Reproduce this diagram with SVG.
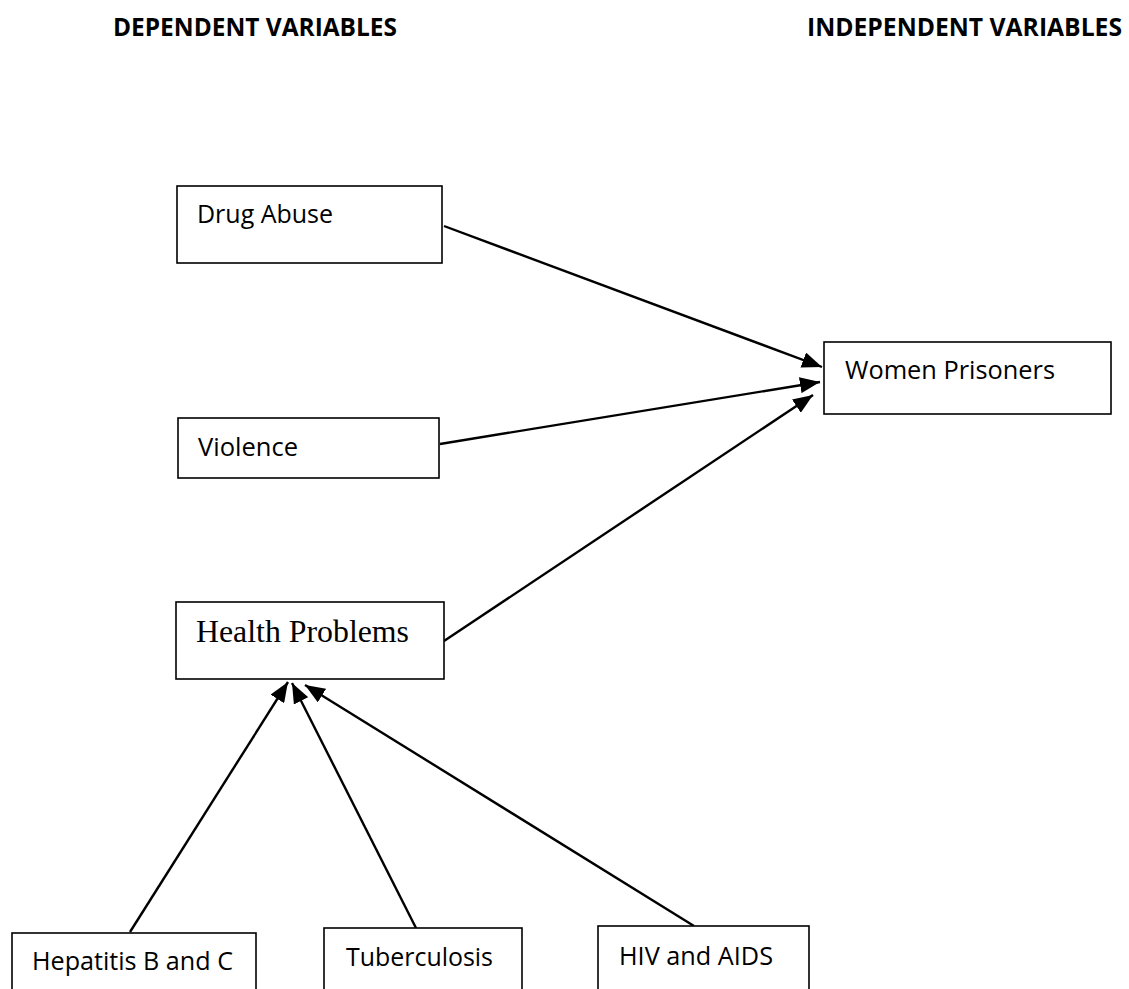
<svg xmlns="http://www.w3.org/2000/svg" width="1129" height="989" viewBox="0 0 1129 989">
<style>
.box{fill:#fff;stroke:#000;stroke-width:1.6}
.lbl{font-family:"Open Sans","Liberation Sans",sans-serif;font-size:25px;fill:#000}
.serif{font-family:"Liberation Serif","Times New Roman",serif;font-size:32px;fill:#000}
.hdr{font-family:"Open Sans","Liberation Sans",sans-serif;font-size:25px;font-weight:bold;fill:#000}
.conn{stroke:#000;stroke-width:2.4;fill:none;marker-end:url(#arr)}
</style>
<defs>
<marker id="arr" markerUnits="userSpaceOnUse" markerWidth="21" markerHeight="16" refX="20" refY="8" orient="auto" viewBox="0 0 21 16">
<path d="M0,0 L20,8 L0,16 z" fill="#000"/>
</marker>
</defs>
<rect width="1129" height="989" fill="#fff"/>
<g id="headers">
<text class="hdr" x="113" y="36" textLength="284" lengthAdjust="spacingAndGlyphs">DEPENDENT VARIABLES</text>
<text class="hdr" x="807" y="36" textLength="315" lengthAdjust="spacingAndGlyphs">INDEPENDENT VARIABLES</text>
</g>
<g id="connectors">
<line class="conn" x1="444" y1="226" x2="822" y2="367"/>
<line class="conn" x1="440" y1="444" x2="820" y2="382"/>
<line class="conn" x1="444" y1="641" x2="813" y2="395"/>
<line class="conn" x1="130" y1="932" x2="288" y2="682"/>
<line class="conn" x1="416" y1="928" x2="292" y2="683"/>
<line class="conn" x1="694" y1="926" x2="305" y2="685"/>
</g>
<g id="drug-abuse">
<rect class="box" x="177" y="186" width="265" height="77"/>
<text class="lbl" x="197" y="223" textLength="136" lengthAdjust="spacingAndGlyphs">Drug Abuse</text>
</g>
<g id="women-prisoners">
<rect class="box" x="824" y="342" width="287" height="72"/>
<text class="lbl" x="845" y="379" textLength="210" lengthAdjust="spacingAndGlyphs">Women Prisoners</text>
</g>
<g id="violence">
<rect class="box" x="178" y="418" width="261" height="60"/>
<text class="lbl" x="198" y="456" textLength="100" lengthAdjust="spacingAndGlyphs">Violence</text>
</g>
<g id="health-problems">
<rect class="box" x="176" y="602" width="268" height="77"/>
<text class="serif" x="196" y="642" textLength="213" lengthAdjust="spacingAndGlyphs">Health Problems</text>
</g>
<g id="hepatitis">
<rect class="box" x="12" y="933" width="244" height="70"/>
<text class="lbl" x="32" y="970" textLength="201" lengthAdjust="spacingAndGlyphs">Hepatitis B and C</text>
</g>
<g id="tuberculosis">
<rect class="box" x="324" y="928" width="198" height="75"/>
<text class="lbl" x="346" y="966" textLength="147" lengthAdjust="spacingAndGlyphs">Tuberculosis</text>
</g>
<g id="hiv-aids">
<rect class="box" x="598" y="926" width="211" height="77"/>
<text class="lbl" x="619" y="965" textLength="154" lengthAdjust="spacingAndGlyphs">HIV and AIDS</text>
</g>
</svg>
